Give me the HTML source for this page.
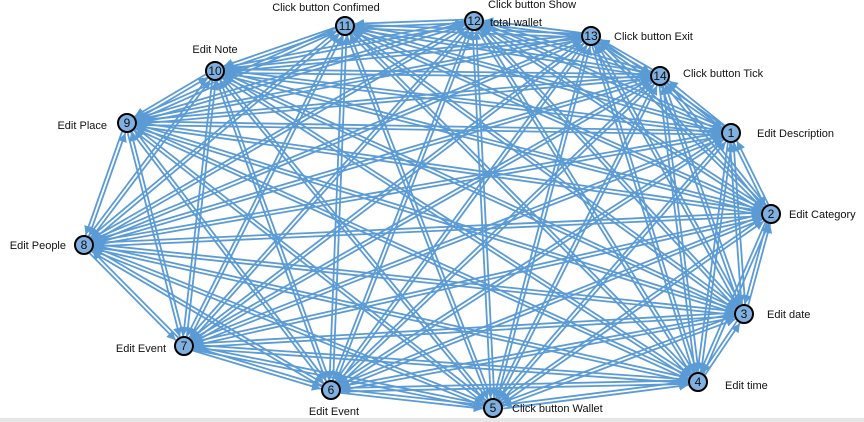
<!DOCTYPE html>
<html><head><meta charset="utf-8"><style>
body{margin:0;width:864px;height:422px;background:#fff;overflow:hidden}
svg{display:block}
text{font-family:"Liberation Sans",sans-serif;font-size:11px;fill:#111}
</style></head><body>
<svg id="g" width="864" height="422">
<defs><marker id="ar" viewBox="0 0 10 10" refX="10" refY="5" markerWidth="5" markerHeight="5" orient="auto"><path d="M0,0L10,5L0,10z" fill="#5b9bd5"/></marker></defs>
<rect x="0" y="418" width="864" height="4" fill="#e6e6e6"/>
<g id="edges"></g><g id="nodes"></g>
</svg>
<script>
const ids=[1,2,3,4,5,6,7,8,9,10,11,12,13,14];
const labels=["Edit Description","Edit Category","Edit date","Edit time","Click button Wallet","Edit Event","Edit Event","Edit People","Edit Place","Edit Note","Click button Confimed","Click button Show","Click button Exit","Click button Tick"];
const nx=[731,771,744,698,493,331,184,84,127,215,345,474,591,660];
const ny=[133,214,314,382,408,390,346,245,123,71,26,21,36,76];
const ns="http://www.w3.org/2000/svg";
const E=document.getElementById('edges'),N=document.getElementById('nodes');
for(let i=0;i<14;i++)for(let j=0;j<14;j++){if(i===j)continue;
 const dx=nx[j]-nx[i],dy=ny[j]-ny[i],d=Math.hypot(dx,dy),r=10;
 const ox=-dy/d*1.8,oy=dx/d*1.8;
 const l=document.createElementNS(ns,'line');
 l.setAttribute('x1',nx[i]+dx/d*r+ox);l.setAttribute('y1',ny[i]+dy/d*r+oy);
 l.setAttribute('x2',nx[j]-dx/d*r+ox);l.setAttribute('y2',ny[j]-dy/d*r+oy);
 l.setAttribute('stroke','#5b9bd5');l.setAttribute('stroke-width','1.8');l.setAttribute('marker-end','url(#ar)');
 
 
 E.appendChild(l);}
const lp=[[757,137,'start'],[789,218,'start'],[767,318,'start'],[725,389,'start'],[512,412,'start'],[334,415,'middle'],[166,352,'end'],[66,249,'end'],[107,129,'end'],[215,53,'middle'],[326,11,'middle'],[488,8,'start'],[614,40,'start'],[683,77,'start']];
for(let i=0;i<14;i++){
 const c=document.createElementNS(ns,'circle');
 c.setAttribute('cx',nx[i]);c.setAttribute('cy',ny[i]);c.setAttribute('r',9);
 c.setAttribute('fill','#7fb0e0');c.setAttribute('stroke','#000');c.setAttribute('stroke-width','2');
 
 
 N.appendChild(c);
 const t=document.createElementNS(ns,'text');
 t.setAttribute('x',nx[i]);t.setAttribute('y',ny[i]+4);t.setAttribute('text-anchor','middle');t.style.fontSize='12px';
 t.textContent=ids[i];
 
 
 N.appendChild(t);
 const L=document.createElementNS(ns,'text');
 L.setAttribute('x',lp[i][0]);L.setAttribute('y',lp[i][1]);L.setAttribute('text-anchor',lp[i][2]);
 L.textContent=labels[i];
 
 
 N.appendChild(L);
}
const t2=document.createElementNS(ns,'text');t2.setAttribute('x',490);t2.setAttribute('y',26);t2.textContent='total wallet';


N.appendChild(t2);
</script>
</body></html>
